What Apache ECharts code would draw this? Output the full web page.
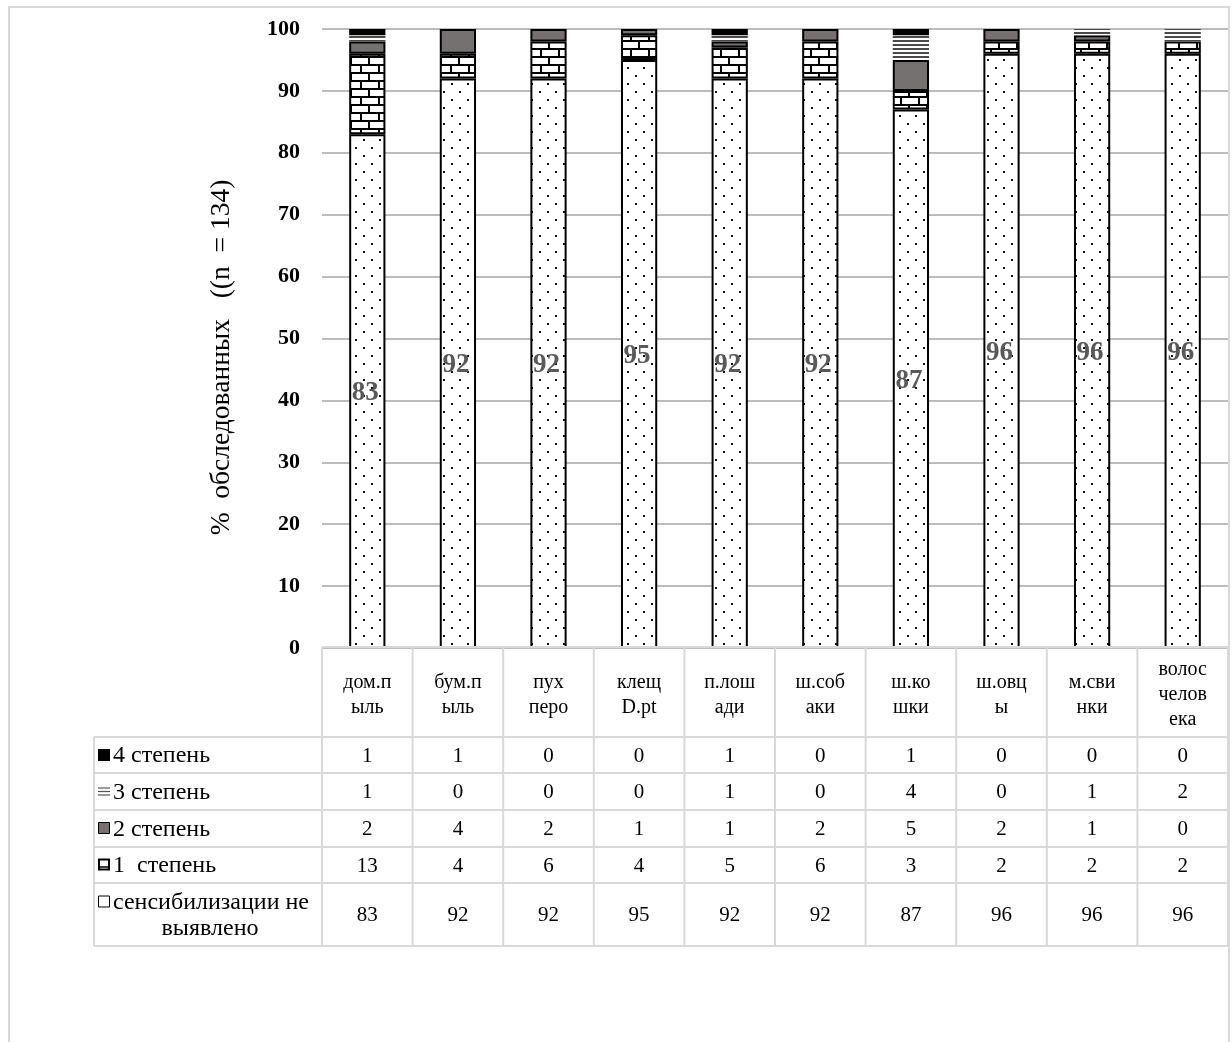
<!DOCTYPE html>
<html>
<head>
<meta charset="utf-8">
<script src="https://cdn.jsdelivr.net/npm/echarts@6/dist/echarts.min.js"></script>
<style>
  html, body { margin: 0; padding: 0; background: #fff; }
  #chart { width: 1232px; height: 1042px; }
</style>
</head>
<body>
<div id="chart"></div>
<script>
// Allergen categories (as printed in the table header, wrapped inside narrow cells)
const categories = ['дом.пыль', 'бум.пыль', 'пух перо', 'клещ D.pt', 'п.лошади', 'ш.собаки', 'ш.кошки', 'ш.овцы', 'м.свинки', 'волос человека'];
const categoryLines = ['дом.п\nыль', 'бум.п\nыль', 'пух\nперо', 'клещ\nD.pt', 'п.лош\nади', 'ш.соб\nаки', 'ш.ко\nшки', 'ш.овц\nы', 'м.сви\nнки', 'волос\nчелов\nека'];

// Share of examined patients (%) by sensitisation grade
const noSens = [83, 92, 92, 95, 92, 92, 87, 96, 96, 96];
const grade1 = [13, 4, 6, 4, 5, 6, 3, 2, 2, 2];
const grade2 = [2, 4, 2, 1, 1, 2, 5, 2, 1, 0];
const grade3 = [1, 0, 0, 0, 1, 0, 4, 0, 1, 2];
const grade4 = [1, 1, 0, 0, 1, 0, 1, 0, 0, 0];

const seriesNames = ['сенсибилизации не выявлено', '1  степень', '2 степень', '3 степень', '4 степень'];
const yAxisTitle = '%  обследованных   ((n  = 134)';

const SERIF = '"Liberation Serif", "Times New Roman", serif';

// ---- fill patterns ----
function tile(w, h, draw) {
  const c = document.createElement('canvas');
  c.width = w; c.height = h;
  const g = c.getContext('2d');
  draw(g);
  return c;
}
const dotsTile = tile(16, 16, g => {
  g.fillStyle = '#fff'; g.fillRect(0, 0, 16, 16);
  g.fillStyle = '#111';
  g.fillRect(3, 3, 2, 2);
  g.fillRect(11, 11, 2, 2);
});
const brickTile = tile(18, 16, g => {
  g.fillStyle = '#000'; g.fillRect(0, 0, 18, 16);
  g.fillStyle = '#fff';
  g.fillRect(2, 2, 16, 6);
  g.fillRect(0, 10, 8, 6);
  g.fillRect(10, 10, 8, 6);
});
const linesTile = tile(8, 4, g => {
  g.fillStyle = '#fff'; g.fillRect(0, 0, 8, 4);
  g.fillStyle = '#4a4a4a';
  g.fillRect(0, 0, 8, 2);
});
const pattern = c => ({ image: c, repeat: 'repeat' });

const GRAY = '#767171';
const fills = [pattern(dotsTile), pattern(brickTile), GRAY, pattern(linesTile), '#000'];
const seriesData = [noSens, grade1, grade2, grade3, grade4];
const borders = [2, 2, 2, 0, 0];

const chart = echarts.init(document.getElementById('chart'), null, { renderer: 'canvas' });

const series = seriesData.map((arr, i) => ({
  name: seriesNames[i],
  type: 'bar',
  stack: 'total',
  barWidth: '40%',
  data: arr.map(v => (v === 0 ? '-' : v)),
  itemStyle: { color: fills[i], borderColor: '#000', borderWidth: borders[i] },
  label: i === 0 ? {
    show: true, position: 'inside', offset: [-2, 2],
    fontFamily: SERIF, fontSize: 27, fontWeight: 'bold', color: '#595959'
  } : { show: false },
  emphasis: { disabled: true },
  animation: false
}));

chart.setOption({
  animation: false,
  backgroundColor: '#fff',
  grid: { left: 322, right: 4, top: 29, bottom: 394, containLabel: false },
  xAxis: {
    type: 'category', data: categories,
    axisLine: { show: false }, axisTick: { show: false }, axisLabel: { show: false },
    splitLine: { show: false }
  },
  yAxis: {
    type: 'value', min: 0, max: 100, interval: 10,
    axisLine: { show: false }, axisTick: { show: false },
    axisLabel: { fontFamily: SERIF, fontSize: 22, fontWeight: 'bold', color: '#000', margin: 22 },
    splitLine: { lineStyle: { color: '#a6a6a6', width: 1.5 } }
  },
  series
});

// ---- data table under the plot, aligned with the category axis ----
function buildTable() {
  const c0 = chart.convertToPixel({ xAxisIndex: 0 }, 0);
  const c1 = chart.convertToPixel({ xAxisIndex: 0 }, 1);
  const colW = c1 - c0;
  const n = categories.length;
  const left = c0 - colW / 2;
  const right = left + colW * n;
  const labelLeft = 94;
  const headTop = 647;
  const rowTops = [737, 773, 810, 847, 883, 946];
  const LINE = '#d9d9d9';
  const els = [];
  const line = (x1, y1, x2, y2) => els.push({
    type: 'line', silent: true, z: 100,
    shape: { x1, y1, x2, y2 }, style: { stroke: LINE, lineWidth: 2 }
  });
  const text = (x, y, t, align, size) => els.push({
    type: 'text', silent: true, z: 101, x, y,
    style: { text: t, fontFamily: SERIF, fontSize: size || 20, fill: '#000',
             align: align || 'center', verticalAlign: 'middle', lineHeight: 25 }
  });

  // outer frame of the figure
  els.push({ type: 'rect', silent: true, z: 100, shape: { x: 9, y: 7, width: 1220, height: 1040 },
             style: { fill: 'none', stroke: LINE, lineWidth: 2 } });

  // grid of the table
  line(left, headTop, right, headTop);
  for (let i = 0; i <= n; i++) {
    const x = left + colW * i;
    line(x, headTop, x, rowTops[rowTops.length - 1]);
  }
  rowTops.forEach(y => line(labelLeft, y, right, y));
  line(labelLeft, rowTops[0], labelLeft, rowTops[rowTops.length - 1]);

  // category header labels
  categoryLines.forEach((t, i) => text(left + colW * (i + 0.5), 695, t, 'center', 20));

  // rows: grade 4 at top down to "no sensitisation"
  const order = [4, 3, 2, 1, 0];
  const rowMid = r => (rowTops[r] + rowTops[r + 1]) / 2;
  order.forEach((s, r) => {
    seriesData[s].forEach((v, i) => text(left + colW * (i + 0.5), rowMid(r) + 1, String(v), 'center', 21));
  });

  // row headers with legend keys
  const keyX = 98, keyS = 12, txtX = 113, LBL = 24;
  // 4 степень
  els.push({ type: 'rect', z: 101, silent: true, shape: { x: keyX, y: rowMid(0) - keyS / 2, width: keyS, height: keyS }, style: { fill: '#000' } });
  text(txtX, rowMid(0) + 1, seriesNames[4], 'left', LBL);
  // 3 степень
  for (let k = 0; k < 3; k++) {
    const y = rowMid(1) - 3.5 + k * 3.5;
    els.push({ type: 'line', z: 101, silent: true, shape: { x1: keyX, y1: y, x2: keyX + keyS, y2: y }, style: { stroke: '#555', lineWidth: 1.2 } });
  }
  text(txtX, rowMid(1) + 1, seriesNames[3], 'left', LBL);
  // 2 степень
  els.push({ type: 'rect', z: 101, silent: true, shape: { x: keyX + 0.5, y: rowMid(2) - keyS / 2, width: keyS - 1, height: keyS - 1 }, style: { fill: GRAY, stroke: '#000', lineWidth: 1 } });
  text(txtX, rowMid(2) + 1, seriesNames[2], 'left', LBL);
  // 1 степень
  els.push({ type: 'rect', z: 101, silent: true, shape: { x: keyX + 1, y: rowMid(3) - keyS / 2 + 0.5, width: keyS - 2, height: keyS - 2 }, style: { fill: '#fff', stroke: '#000', lineWidth: 2 } });
  els.push({ type: 'line', z: 102, silent: true, shape: { x1: keyX + 2, y1: rowMid(3) + 2, x2: keyX + keyS - 2, y2: rowMid(3) + 2 }, style: { stroke: '#000', lineWidth: 1.5 } });
  text(txtX, rowMid(3) + 1, seriesNames[1], 'left', LBL);
  // no sensitisation (two lines)
  const y5 = rowMid(4);
  els.push({ type: 'rect', z: 101, silent: true, shape: { x: keyX + 0.5, y: y5 - 12.5 - keyS / 2, width: keyS - 1, height: keyS - 1 }, style: { fill: '#fff', stroke: '#000', lineWidth: 1 } });
  text(txtX, y5 - 12, 'сенсибилизации не', 'left', LBL);
  text((labelLeft + left) / 2 + 2, y5 + 14, 'выявлено', 'center', LBL);

  // y axis title
  const gridTop = chart.convertToPixel({ yAxisIndex: 0 }, 100);
  const gridBot = chart.convertToPixel({ yAxisIndex: 0 }, 0);
  els.push({
    type: 'text', silent: true, z: 101, x: 222, y: (gridTop + gridBot) / 2 + 19, rotation: Math.PI / 2,
    style: { text: yAxisTitle, fontFamily: SERIF, fontSize: 27.5, fill: '#000', align: 'center', verticalAlign: 'middle' }
  });

  chart.setOption({ graphic: { elements: els } });
}
buildTable();
</script>
</body>
</html>
